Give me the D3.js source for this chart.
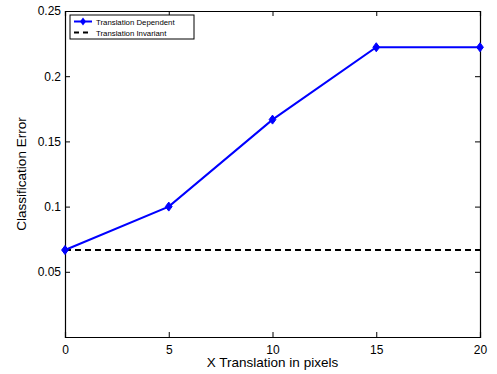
<!DOCTYPE html>
<html><head><meta charset="utf-8">
<script src="https://cdn.jsdelivr.net/npm/d3@7"></script>
<style>body{margin:0;background:#fff}svg{font-family:"Liberation Sans",Arial,sans-serif}</style>
</head><body><svg id="c" width="497" height="374"></svg>
<script>
const xValues = [0, 5, 10, 15, 20];
const dependent = [0.0667, 0.1, 0.1667, 0.2222, 0.2222];
const invariant = [0.0667, 0.0667, 0.0667, 0.0667, 0.0667];
const xTicks = [0, 5, 10, 15, 20];
const yTicks = [0.05, 0.1, 0.15, 0.2, 0.25];
const seriesNames = ["Translation Dependent", "Translation Invariant"];

const svg = d3.select("#c");
const L = 65, R = 480, T = 11, B = 337;
const x = d3.scaleLinear().domain([0, 20]).range([L, R]);
const y = d3.scaleLinear().domain([0, 0.25]).range([B, T]);

svg.append("rect").attr("x", L).attr("y", T).attr("width", R - L).attr("height", B - T)
  .attr("fill", "#fff");

const fmt = d => String(d);
const gx = svg.append("g").attr("transform", `translate(0,${B})`)
  .call(d3.axisBottom(x).tickValues(xTicks).tickFormat(fmt).tickSize(-5).tickPadding(8));
const gxt = svg.append("g").attr("transform", `translate(0,${T})`)
  .call(d3.axisTop(x).tickValues(xTicks).tickFormat("").tickSize(-5));
const gy = svg.append("g").attr("transform", `translate(${L},0)`)
  .call(d3.axisLeft(y).tickValues(yTicks).tickFormat(fmt).tickSize(-5).tickPadding(4));
const gyr = svg.append("g").attr("transform", `translate(${R},0)`)
  .call(d3.axisRight(y).tickValues(yTicks).tickFormat("").tickSize(-5));
[gx, gxt, gy, gyr].forEach(g => {
  g.select(".domain").attr("stroke", "#000").attr("stroke-width", 1.2);
  g.selectAll(".tick line").attr("stroke", "#000");
  g.selectAll("text").attr("font-size", 12).attr("fill", "#000")
    .attr("font-family", "Liberation Sans, Arial, sans-serif");
});

// invariant dashed
const line = d3.line().x((d, i) => x(xValues[i])).y(d => y(d));
svg.append("path").datum(invariant).attr("d", line).attr("fill", "none")
  .attr("stroke", "#000").attr("stroke-width", 2.2).attr("stroke-dasharray", "6,4");

svg.append("path").datum(dependent).attr("d", line).attr("fill", "none")
  .attr("stroke", "#0000ff").attr("stroke-width", 2);
const diamond = (cx, cy, s) => `M${cx},${cy - s}L${cx + s * 0.75},${cy}L${cx},${cy + s}L${cx - s * 0.75},${cy}Z`;
svg.selectAll(".mk").data(dependent).enter().append("path")
  .attr("d", (d, i) => diamond(x(xValues[i]), y(d), 4.5))
  .attr("fill", "#0000ff").attr("stroke", "#0000ff").attr("stroke-width", 1);

// axis labels
svg.append("text").attr("x", (L + R) / 2).attr("y", 367).attr("text-anchor", "middle")
  .attr("font-size", 13.5).text("X Translation in pixels");
svg.append("text").attr("transform", `translate(26,${(T + B) / 2}) rotate(-90)`)
  .attr("text-anchor", "middle").attr("font-size", 13.5).text("Classification Error");

// legend
const lg = svg.append("g");
lg.append("rect").attr("x", 70).attr("y", 15).attr("width", 124).attr("height", 24)
  .attr("fill", "#fff").attr("stroke", "#000").attr("stroke-width", 1);
lg.append("line").attr("x1", 74).attr("x2", 92).attr("y1", 21.5).attr("y2", 21.5)
  .attr("stroke", "#0000ff").attr("stroke-width", 2);
lg.append("path").attr("d", diamond(83, 21.5, 4)).attr("fill", "#0000ff");
lg.append("line").attr("x1", 74).attr("x2", 92).attr("y1", 32.5).attr("y2", 32.5)
  .attr("stroke", "#000").attr("stroke-width", 2.2).attr("stroke-dasharray", "5,4");
seriesNames.forEach((n, i) => {
  lg.append("text").attr("x", 96).attr("y", 24.5 + i * 11).attr("font-size", 7.8).text(n);
});
</script></body></html>
